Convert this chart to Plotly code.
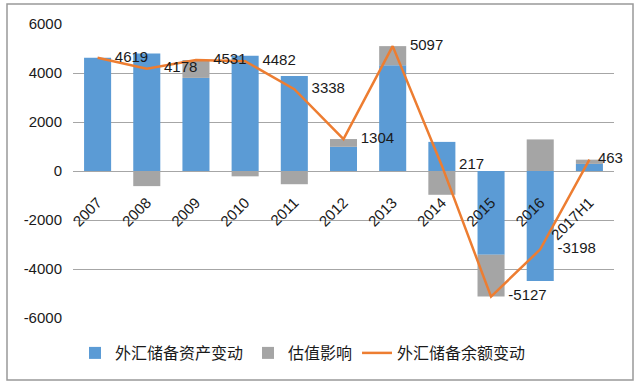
import plotly.graph_objects as go

categories = ["2007", "2008", "2009", "2010", "2011", "2012", "2013", "2014", "2015", "2016", "2017H1"]
asset_change = [4619, 4795, 3800, 4700, 3878, 987, 4314, 1188, -3423, -4487, 290]
valuation = [0, -617, 731, -218, -540, 317, 783, -971, -1704, 1289, 173]
balance_change = [4619, 4178, 4531, 4482, 3338, 1304, 5097, 217, -5127, -3198, 463]
y_ticks = [-6000, -4000, -2000, 0, 2000, 4000, 6000]
y_tick_labels = ["-6000", "-4000", "-2000", "0", "2000", "4000", "6000"]

num_font = "Liberation Sans, Arial, sans-serif"
cjk_font = "Noto Sans CJK SC, sans-serif"

# invisible markers only serve to push the data labels off the line points
label_pad = [26] * (len(categories) - 1) + [12]

fig = go.Figure()
fig.add_trace(go.Bar(
    x=categories, y=asset_change, name="外汇储备资产变动",
    marker=dict(color="#5B9BD5", line=dict(width=0)),
))
fig.add_trace(go.Bar(
    x=categories, y=valuation, name="估值影响",
    marker=dict(color="#A5A5A5", line=dict(width=0)),
))
fig.add_trace(go.Scatter(
    x=categories, y=balance_change, name="外汇储备余额变动",
    mode="lines+markers+text",
    line=dict(color="#ED7D31", width=2.5),
    marker=dict(size=label_pad, color="rgba(0,0,0,0)",
                line=dict(width=0, color="rgba(0,0,0,0)")),
    text=[str(v) for v in balance_change],
    textposition="middle right",
    textfont=dict(family=num_font, size=15, color="#1a1a1a"),
    cliponaxis=False,
))

W, H = 638, 385
L, R, T, B = 73, 24, 24, 67
pw, ph = W - L - R, H - T - B

def px_x(x):
    return (x - L) / pw

def px_y(y):
    return (H - B - y) / ph

fig.update_layout(
    width=W, height=H,
    margin=dict(l=L, r=R, t=T, b=B, pad=0, autoexpand=False),
    paper_bgcolor="white", plot_bgcolor="white",
    barmode="relative", bargap=0.45,
    font=dict(family=num_font, size=15, color="#1a1a1a"),
    showlegend=True,
    hovermode=False,
    legend=dict(
        orientation="h", x=px_x(75), xanchor="left", y=px_y(353), yanchor="middle",
        font=dict(family=cjk_font, size=16, color="#1a1a1a"),
        bgcolor="rgba(0,0,0,0)", traceorder="normal",
    ),
    xaxis=dict(
        type="category", anchor="free", position=0.5,
        range=[-0.5, len(categories) - 0.5], autorange=False,
        showgrid=False, showline=False, zeroline=False,
        tickangle=-45, ticks="", ticklabelstandoff=19,
        tickfont=dict(family=num_font, size=15, color="#1a1a1a"),
    ),
    yaxis=dict(
        range=[-6000, 6000], tickvals=y_ticks, ticktext=y_tick_labels,
        showgrid=True, gridcolor="#A6A6A6", gridwidth=1,
        zeroline=True, zerolinecolor="#A6A6A6", zerolinewidth=1,
        showline=False, ticks="", ticklabelstandoff=10,
        tickfont=dict(family=num_font, size=15, color="#1a1a1a"),
    ),
    shapes=[dict(
        type="rect", xref="paper", yref="paper",
        x0=px_x(7), x1=px_x(633), y0=px_y(380), y1=px_y(4),
        line=dict(color="#999999", width=1.5), fillcolor="rgba(0,0,0,0)", layer="above",
    )],
)

fig.write_html(
    "out.html",
    config={"displayModeBar": False},
    post_script="document.body.style.margin='0';document.body.style.overflow='hidden';",
)
